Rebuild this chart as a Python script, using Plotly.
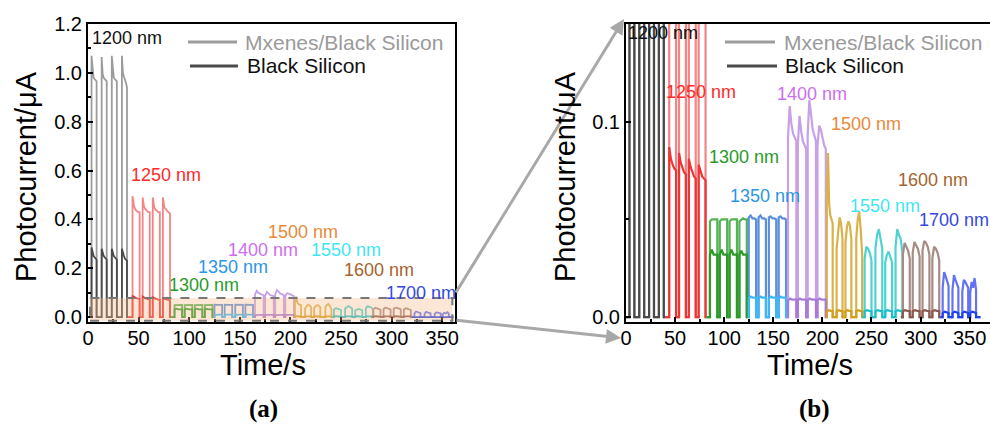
import plotly.graph_objects as go

W, H = 990, 425

# ---------------- data ----------------
wavelength_labels = ["1200 nm", "1250 nm", "1300 nm", "1350 nm", "1400 nm",
                     "1500 nm", "1550 nm", "1600 nm", "1700 nm"]
label_colors = ["#111111", "#ff2a2a", "#2a9a2a", "#2a96e8", "#cc6ef0",
                "#e8893c", "#3fe6f2", "#a5632e", "#3448e0"]
mx_colors = ["#9c9c9c", "#f38585", "#55b255", "#5b8fdc", "#c8a0e6",
             "#dab24c", "#4fd2d2", "#a88b84", "#6373f2"]
bs_colors = ["#4a4a4a", "#ee3434", "#2b9a2b", "#3db6f5", "#a97ad8",
             "#d29e1e", "#20bfc8", "#8a5a50", "#2244e6"]

block_start = [0, 40, 82, 124, 164, 204, 241, 280, 320]
block_end = [40, 82, 124, 164, 204, 241, 280, 320, 361]
pulse_on = [[3.5, 13.5, 23.5, 33.5],
            [44, 54, 64, 74],
            [85.5, 95.5, 105.5, 115.5],
            [125, 135, 145.5, 155.5],
            [165, 175, 185, 195],
            [204.5, 214.5, 223.5, 234.5],
            [243, 254, 264, 274.5],
            [282, 292, 302, 312],
            [322.5, 332.5, 342.5, 350.5]]
pulse_width = [5, 7, 7.5, 7.5, 8.5, 6, 7, 7, 6]

# Mxenes/Black Silicon: current profile across each light-on period (uA)
mx_tops = [
    [[1.07, 1.00, 0.98, 0.975, 0.97, 0.965], [1.065, 0.995, 0.98, 0.975, 0.97, 0.965],
     [1.07, 1.00, 0.98, 0.975, 0.97, 0.965], [1.07, 1.00, 0.985, 0.975, 0.96, 0.94]],
    [[0.495, 0.455, 0.44, 0.435, 0.43, 0.43], [0.49, 0.45, 0.44, 0.435, 0.43, 0.43],
     [0.49, 0.45, 0.44, 0.435, 0.43, 0.43], [0.49, 0.45, 0.44, 0.435, 0.43, 0.425]],
    [[0.049, 0.050, 0.050, 0.050, 0.050], [0.049, 0.050, 0.050, 0.050, 0.050],
     [0.049, 0.050, 0.050, 0.050, 0.050], [0.049, 0.050, 0.0505, 0.050, 0.050]],
    [[0.051, 0.052, 0.0505, 0.0505, 0.050], [0.051, 0.052, 0.0505, 0.0505, 0.050],
     [0.051, 0.0515, 0.0505, 0.0505, 0.050], [0.051, 0.0515, 0.0505, 0.0505, 0.050]],
    [[0.092, 0.108, 0.099, 0.094, 0.092, 0.090], [0.088, 0.103, 0.095, 0.090, 0.088, 0.086],
     [0.093, 0.111, 0.104, 0.096, 0.093, 0.090], [0.087, 0.098, 0.096, 0.092, 0.088, 0.086]],
    [[0.060, 0.084, 0.058, 0.052, 0.050, 0.048], [0.035, 0.045, 0.051, 0.048, 0.040],
     [0.038, 0.046, 0.049, 0.047, 0.040], [0.040, 0.050, 0.054, 0.045, 0.032]],
    [[0.030, 0.036, 0.035, 0.033, 0.029], [0.035, 0.042, 0.045, 0.040, 0.035],
     [0.028, 0.032, 0.0335, 0.031, 0.028], [0.036, 0.045, 0.042, 0.040, 0.033]],
    [[0.032, 0.038, 0.036, 0.034, 0.030], [0.033, 0.0385, 0.037, 0.035, 0.031],
     [0.034, 0.039, 0.038, 0.036, 0.032], [0.030, 0.036, 0.035, 0.033, 0.029]],
    [[0.015, 0.023, 0.021, 0.018, 0.016], [0.014, 0.0215, 0.019, 0.017, 0.015],
     [0.013, 0.019, 0.018, 0.016, 0.015], [0.012, 0.018, 0.015, 0.020, 0.014]],
]

# Black Silicon: current profile across each light-on period (uA)
bs_tops = [
    [[0.285, 0.26, 0.25, 0.245, 0.24, 0.235], [0.28, 0.26, 0.25, 0.245, 0.24, 0.235],
     [0.28, 0.26, 0.25, 0.245, 0.24, 0.235], [0.28, 0.26, 0.25, 0.24, 0.235, 0.23]],
    [[0.087, 0.081, 0.078, 0.076, 0.075], [0.084, 0.079, 0.076, 0.074, 0.073],
     [0.081, 0.077, 0.074, 0.072, 0.071], [0.078, 0.075, 0.072, 0.071, 0.070]],
    [[0.032, 0.0345, 0.032, 0.032, 0.032], [0.032, 0.0345, 0.032, 0.032, 0.032],
     [0.032, 0.0345, 0.032, 0.032, 0.032], [0.032, 0.034, 0.032, 0.032, 0.032]],
    [[0.0095, 0.0105, 0.010, 0.010, 0.010], [0.0095, 0.0105, 0.010, 0.010, 0.010],
     [0.0095, 0.0105, 0.010, 0.010, 0.010], [0.0095, 0.0105, 0.010, 0.010, 0.010]],
    [[0.0085, 0.0095, 0.009, 0.009, 0.009], [0.0085, 0.0095, 0.009, 0.009, 0.009],
     [0.0085, 0.0095, 0.009, 0.009, 0.009], [0.0085, 0.0095, 0.009, 0.009, 0.009]],
    [[0.003, 0.0035, 0.0032, 0.003], [0.003, 0.0035, 0.0032, 0.003],
     [0.003, 0.0035, 0.0032, 0.003], [0.003, 0.0035, 0.0032, 0.003]],
    [[0.003, 0.0035, 0.0032, 0.003], [0.003, 0.0035, 0.0032, 0.003],
     [0.003, 0.0035, 0.0032, 0.003], [0.003, 0.0035, 0.0032, 0.003]],
    [[0.003, 0.0035, 0.0032, 0.003], [0.003, 0.0035, 0.0032, 0.003],
     [0.003, 0.0035, 0.0032, 0.003], [0.003, 0.0035, 0.0032, 0.003]],
    [[0.002, 0.0028, 0.0025, 0.002], [0.002, 0.0028, 0.0025, 0.002],
     [0.002, 0.0028, 0.0025, 0.002], [0.002, 0.0028, 0.0025, 0.002]],
]

x_ticks = [0, 50, 100, 150, 200, 250, 300, 350]
y_ticks_a = [0.0, 0.2, 0.4, 0.6, 0.8, 1.0, 1.2]
y_ticks_b = [0.0, 0.1]
legend_names = ["Mxenes/Black Silicon", "Black Silicon"]


def pulse_series(i, tops):
    xs, ys = [block_start[i]], [0.0]
    w = pulse_width[i]
    for s, prof in zip(pulse_on[i], tops):
        n = len(prof)
        xs.append(s)
        ys.append(0.0)
        for k, v in enumerate(prof):
            xs.append(s + w * k / (n - 1))
            ys.append(v)
        xs.append(s + w)
        ys.append(0.0)
    xs.append(block_end[i])
    ys.append(0.0)
    return xs, ys


fig = go.Figure()
for xa, ya, lw in (("x", "y", 1.8), ("x2", "y2", 2.2)):
    for i in range(len(wavelength_labels)):
        xs, ys = pulse_series(i, mx_tops[i])
        fig.add_trace(go.Scatter(x=xs, y=ys, mode="lines", xaxis=xa, yaxis=ya,
                                 line=dict(color=mx_colors[i], width=lw),
                                 showlegend=False, hoverinfo="skip"))
    for i in range(len(wavelength_labels)):
        xs, ys = pulse_series(i, bs_tops[i])
        fig.add_trace(go.Scatter(x=xs, y=ys, mode="lines", xaxis=xa, yaxis=ya,
                                 line=dict(color=bs_colors[i], width=lw),
                                 showlegend=False, hoverinfo="skip"))


def px(x):
    return x / W


def py(y):
    return 1 - y / H


FONT = "Arial, Liberation Sans, sans-serif"
axis_common = dict(showline=True, mirror=True, linecolor="black", linewidth=2,
                   ticks="inside", ticklen=5, tickwidth=1.5, tickcolor="black",
                   showgrid=False, zeroline=False,
                   tickfont=dict(family=FONT, size=20, color="black"))

ydom = [py(322), py(24)]
fig.update_layout(
    width=W, height=H, margin=dict(l=0, r=0, t=0, b=0, autoexpand=False),
    paper_bgcolor="white", plot_bgcolor="white", showlegend=False,
    xaxis=dict(domain=[px(88), px(455)], range=[0, 362.6], anchor="y",
               tickvals=x_ticks, ticklabelstandoff=-3,
               minor=dict(ticks="inside", ticklen=3, dtick=25, tick0=0),
               **axis_common),
    yaxis=dict(domain=ydom, range=[-0.02, 1.2], anchor="x",
               tickvals=y_ticks_a, tickformat=".1f",
               minor=dict(ticks="inside", ticklen=3, dtick=0.1, tick0=0),
               **axis_common),
    xaxis2=dict(domain=[px(626), 1.0], range=[0, 370.7], anchor="y2",
                tickvals=x_ticks, ticklabelstandoff=-3,
                minor=dict(ticks="inside", ticklen=3, dtick=25, tick0=0),
                **axis_common),
    yaxis2=dict(domain=ydom, range=[-0.0025, 0.15], anchor="x2",
                tickvals=y_ticks_b, tickformat=".1f",
                minor=dict(ticks="inside", ticklen=3, dtick=0.05, tick0=0),
                **axis_common),
)

# zoom box in (a)
fig.add_shape(type="rect", xref="x", yref="y", x0=2, x1=360, y0=-0.015, y1=0.078,
              fillcolor="rgba(245,185,140,0.35)", layer="above",
              line=dict(color="#777777", width=2, dash="dash"))

# connecting arrows
for hx, hy, tx, ty in ((624, 19, 455, 294), (621, 338, 455, 320)):
    fig.add_annotation(x=px(hx), y=py(hy), xref="paper", yref="paper", text="",
                       showarrow=True, ax=tx - hx, ay=ty - hy, axref="pixel", ayref="pixel",
                       arrowhead=2, arrowsize=1, arrowwidth=3, arrowcolor="#a8a8a8")

# legends (drawn)
for (x0, x1, tx), ycen in (((188, 237, 243), 42), ((725, 775, 782), 42)):
    fig.add_shape(type="line", xref="paper", yref="paper", x0=px(x0), x1=px(x1),
                  y0=py(ycen), y1=py(ycen), line=dict(color="#9c9c9c", width=3))
    fig.add_annotation(x=px(tx), y=py(ycen), xref="paper", yref="paper", text=legend_names[0],
                       showarrow=False, xanchor="left", yanchor="middle",
                       font=dict(family=FONT, size=21, color="#9a9a9a"))
for (x0, x1, tx), ycen in (((190, 238, 245), 66), ((727, 777, 783), 66)):
    fig.add_shape(type="line", xref="paper", yref="paper", x0=px(x0), x1=px(x1),
                  y0=py(ycen), y1=py(ycen), line=dict(color="#4a4a4a", width=3))
    fig.add_annotation(x=px(tx), y=py(ycen), xref="paper", yref="paper", text=legend_names[1],
                       showarrow=False, xanchor="left", yanchor="middle",
                       font=dict(family=FONT, size=21, color="#111111"))

# wavelength labels (pixel centres)
label_pos_a = [(127, 38), (166, 175), (204, 285), (233, 267), (263, 250),
               (303, 232), (346, 250), (379, 270), (421, 293)]
label_pos_b = [(663, 33), (701, 92), (744, 157), (765, 196), (812, 94),
               (866, 124), (885, 206), (933, 180), (954, 220)]
for pos in (label_pos_a, label_pos_b):
    for i, (lx, ly) in enumerate(pos):
        fig.add_annotation(x=px(lx), y=py(ly), xref="paper", yref="paper",
                           text=wavelength_labels[i], showarrow=False,
                           xanchor="center", yanchor="middle",
                           font=dict(family=FONT, size=18, color=label_colors[i]))

# axis titles
for cx in (26, 565):
    fig.add_annotation(x=px(cx), y=py(177), xref="paper", yref="paper",
                       text="Photocurrent/μA", textangle=-90, showarrow=False,
                       xanchor="center", yanchor="middle",
                       font=dict(family=FONT, size=29, color="black"))
for cx in (263, 810):
    fig.add_annotation(x=px(cx), y=py(365), xref="paper", yref="paper",
                       text="Time/s", showarrow=False, xanchor="center", yanchor="middle",
                       font=dict(family=FONT, size=29, color="black"))
for cx, t in ((263, "(a)"), (814, "(b)")):
    fig.add_annotation(x=px(cx), y=py(409), xref="paper", yref="paper",
                       text="<b>" + t + "</b>", showarrow=False, xanchor="center", yanchor="middle",
                       font=dict(family="Liberation Serif, Times New Roman, serif", size=25, color="black"))

fig.write_html("out.html", config={"displayModeBar": False},
               post_script="document.body.style.margin='0px';document.body.style.overflow='hidden';")
